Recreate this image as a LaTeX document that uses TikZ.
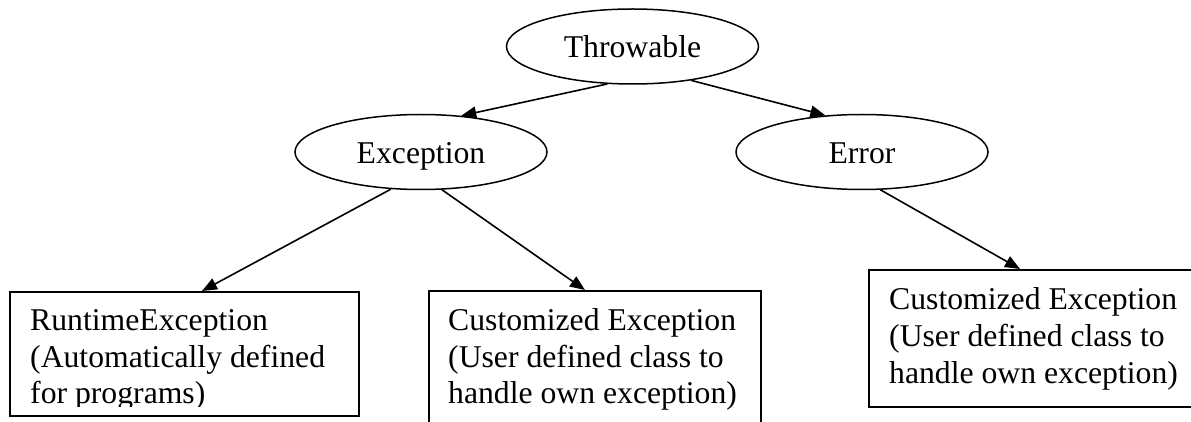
\documentclass[tikz,border=0pt]{standalone}
\usepackage{fontspec}
\setmainfont{Liberation Serif}
\usetikzlibrary{shapes.geometric,arrows.meta,calc}

\tikzset{
  cls/.style={ellipse, draw, line width=1.5pt, minimum width=252pt, minimum height=75pt,
              inner sep=0pt, text height=23pt, text depth=0pt},
  box/.style={rectangle, draw, line width=1.8pt, anchor=north west, inner sep=0pt},
  ln/.style={anchor=base west, inner sep=0pt},
  link/.style={line width=1.6pt, -{Triangle[length=15pt,width=12pt]}},
}

\begin{document}
\begin{tikzpicture}[x=1pt, y=-1pt, font=\fontsize{31.7}{36.7}\selectfont]
\useasboundingbox (0,0) rectangle (1191,422);
\clip (0,0) rectangle (1191,422);
\fill[white] (0,0) rectangle (1191,422);

% class hierarchy
\node[cls] (thr) at (632.5,46.5) {Throwable};
\node[cls] (exc) at (421,152) {Exception};
\node[cls] (err) at (862,152) {Error};

% leaf boxes
\node[box, minimum width=349pt, minimum height=124pt] (b1) at (9,291) {};
\node[box, minimum width=332pt, minimum height=150pt] (b2) at (428,290) {};
\node[box, minimum width=340pt, minimum height=137pt] (b3) at (868,269) {};

% box texts (the last line of the first box runs past its text area)
\begin{scope}
  \clip (b1.north west) rectangle ($(b1.south east)+(0,-10)$);
  \node[ln] (b1a) at ($(b1.north west)+(21,39)$) {RuntimeException};
  \node[ln] (b1b) at ($(b1.north west)+(21,76)$) {(Automatically defined};
  \node[ln] (b1c) at ($(b1.north west)+(21,112)$) {for programs)};
\end{scope}
\node[ln] (b2a) at ($(b2.north west)+(20,40)$) {Customized Exception};
\node[ln] (b2b) at ($(b2.north west)+(20,77)$) {(User defined class to};
\node[ln] (b2c) at ($(b2.north west)+(20,113)$) {handle own exception)};
\node[ln] (b3a) at ($(b3.north west)+(21,40)$) {Customized Exception};
\node[ln] (b3b) at ($(b3.north west)+(21,77)$) {(User defined class to};
\node[ln] (b3c) at ($(b3.north west)+(21,114)$) {handle own exception)};

% inheritance arrows
\draw[link] (thr.236) -- (exc.42.5);
\draw[link] (thr.330) -- (err.135);
\draw[link] (exc.231.5) -- ($(b1.north west)+(193,0)$);
\draw[link] (exc.299.6) -- ($(b2.north west)+(157,0)$);
\draw[link] (err.296) -- ($(b3.north west)+(152,0)$);
\end{tikzpicture}
\end{document}
